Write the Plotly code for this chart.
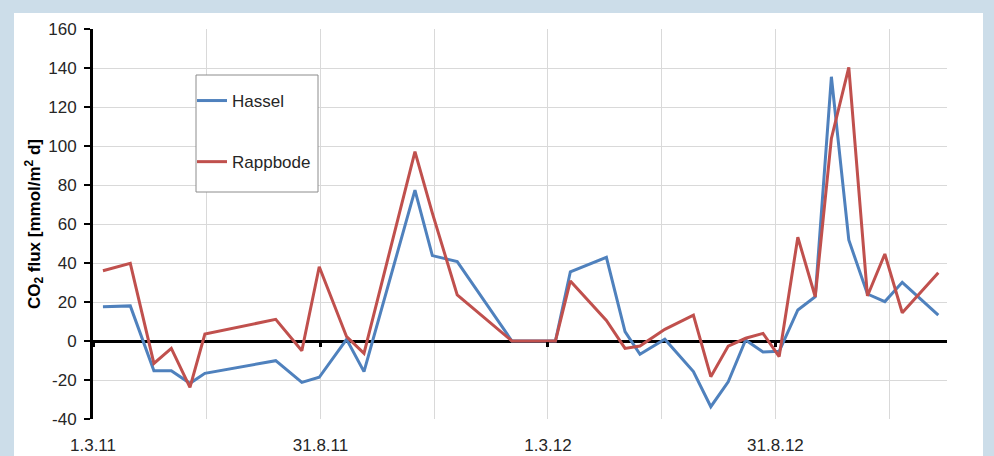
import plotly.graph_objects as go

dates = [
    "2011-03-09", "2011-03-31", "2011-04-19", "2011-05-03", "2011-05-18", "2011-05-30",
    "2011-07-26", "2011-08-16", "2011-08-30", "2011-09-21", "2011-10-05", "2011-11-15",
    "2011-11-29", "2011-12-19", "2012-02-01", "2012-03-07", "2012-03-19", "2012-04-17",
    "2012-05-02", "2012-05-14", "2012-06-03", "2012-06-26", "2012-07-10", "2012-07-24",
    "2012-08-07", "2012-08-21", "2012-09-03", "2012-09-18", "2012-10-02", "2012-10-15",
    "2012-10-29", "2012-11-13", "2012-11-27", "2012-12-11", "2013-01-09",
]
hassel = [
    17.6, 18.0, -15.2, -15.2, -21.7, -16.6,
    -10.1, -21.2, -18.6, 0.9, -15.7, 77.4,
    43.8, 40.7, 0.0, 0.0, 35.5, 42.9,
    4.8, -6.8, 0.9, -15.7, -33.7, -20.9,
    0.5, -5.6, -5.3, 15.9, 22.7, 135.5,
    51.8, 24.1, 20.2, 30.1, 13.3,
]
rappbode = [
    36.0, 39.8, -11.5, -3.8, -23.8, 3.6,
    11.1, -5.0, 38.1, 2.2, -6.3, 97.1,
    65.6, 23.6, 0.0, 0.0, 30.8, 10.5,
    -3.8, -2.6, 6.0, 13.3, -18.3, -2.6,
    1.4, 3.9, -8.0, 53.2, 22.7, 103.9,
    140.3, 23.1, 44.6, 14.5, 35.0,
]

grid_dates = ["2011-03-01", "2011-05-31 12:00", "2011-08-31", "2011-11-30 12:00",
              "2012-03-01", "2012-05-31 12:00", "2012-08-31", "2012-11-30 12:00"]
grid_text = ["1.3.11", "", "31.8.11", "", "1.3.12", "", "31.8.12", ""]
label_dates = ["2011-03-01", "2011-08-31", "2012-03-01", "2012-08-31"]
x_range = ["2011-03-01", "2013-01-16"]
y_range = [-40, 160]
y_ticks = [-40, -20, 0, 20, 40, 60, 80, 100, 120, 140, 160]
y_ticktext = ["-40", "-20", "0", "20", "40", "60", "80", "100", "120", "140", "160"]

FONT = "Liberation Sans"
TXT = "#262626"

# plot area in pixels: x 93..947, y 29..419
def px(x):
    return (x - 93) / 854

def py(y):
    return (419 - y) / 390

fig = go.Figure()
fig.add_trace(go.Scatter(x=dates, y=hassel, mode="lines", name="Hassel",
                         line=dict(color="#4F81BD", width=3), legendgroup="a"))
fig.add_trace(go.Scatter(x=dates, y=rappbode, mode="lines", name="Rappbode",
                         line=dict(color="#C0504D", width=3), legendgroup="b"))
fig.add_trace(go.Scatter(x=[x_range[0]], y=[0], xaxis="x2", mode="lines",
                         showlegend=False, hoverinfo="skip", line=dict(width=0)))

fig.update_layout(
    width=994, height=456,
    margin=dict(l=93, r=47, t=29, b=37),
    paper_bgcolor="#CCDDE9",
    plot_bgcolor="white",
    font=dict(family=FONT, size=17, color=TXT),
    shapes=[
        dict(type="rect", xref="paper", yref="paper",
             x0=px(14), x1=px(983), y0=-0.2, y1=py(13),
             fillcolor="white", line=dict(width=0), layer="below"),
        dict(type="rect", xref="paper", yref="paper",
             x0=px(196), x1=px(318), y0=py(192), y1=py(75),
             fillcolor="white", line=dict(color="#8C8C8C", width=1), layer="above"),
    ],
    xaxis=dict(
        type="date", range=x_range, tickmode="array", tickvals=grid_dates, ticktext=grid_text,
        showgrid=True, gridcolor="#D9D9D9", gridwidth=1, showline=False, zeroline=False,
        ticks="", ticklabelstandoff=14, tickfont=dict(size=17, color=TXT), automargin=False,
    ),
    xaxis2=dict(
        type="date", range=x_range, overlaying="x", anchor="free",
        position=(0 - y_range[0]) / (y_range[1] - y_range[0]),
        tickmode="array", tickvals=label_dates, showticklabels=False,
        ticks="outside", ticklen=5, tickwidth=3, tickcolor="black",
        showgrid=False, showline=False, zeroline=False, automargin=False,
    ),
    yaxis=dict(
        range=y_range, tickmode="array", tickvals=y_ticks, ticktext=y_ticktext,
        showgrid=True, gridcolor="#D9D9D9", gridwidth=1,
        showline=True, linecolor="black", linewidth=3,
        ticks="outside", ticklen=6, tickwidth=2, tickcolor="black",
        zeroline=True, zerolinecolor="black", zerolinewidth=3,
        ticklabelstandoff=4, tickfont=dict(size=17, color=TXT), automargin=False,
        title=dict(text="<b>CO<sub>2</sub> flux [mmol/m<sup>2</sup> d]</b>",
                   font=dict(size=17, color="black"), standoff=4),
    ),
    legend=dict(
        x=px(192), y=py(83), xanchor="left", yanchor="top",
        bgcolor="rgba(0,0,0,0)", borderwidth=0,
        font=dict(size=17, color=TXT), tracegroupgap=36, traceorder="grouped",
    ),
    showlegend=True,
)

fig.write_html("out.html", config={"displayModeBar": False},
               post_script="document.body.style.margin='0';")
